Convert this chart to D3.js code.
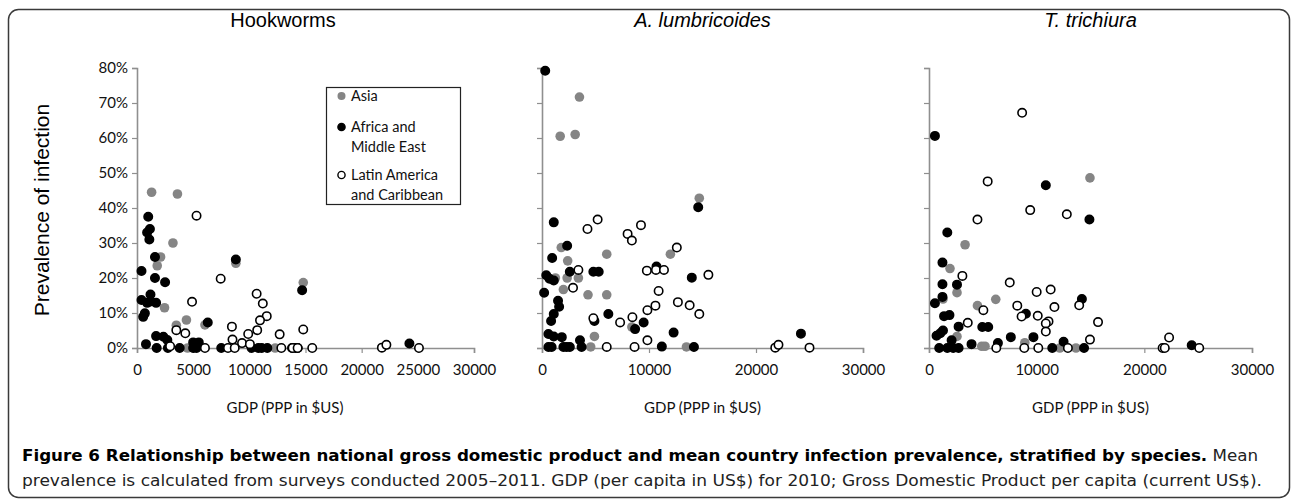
<!DOCTYPE html>
<html>
<head>
<meta charset="utf-8">
<script src="https://cdn.jsdelivr.net/npm/d3@7"></script>
<style>
  body { margin: 0; background: #fff; }
  svg { display: block; }
</style>
</head>
<body>
<svg></svg>
<script>
// [GDP, prevalence %]
let hookAsia = [[1300,44.5],[3600,44],[3200,30],[2100,26],[1800,23.5],[2450,11.5],[4400,8],[3500,6.5],[6050,6.6],[8800,24.2],[14800,18.7],[4500,0],[12300,0],[14300,0]]
let hookAfrica = [[1000,37.5],[900,33],[1150,34],[1100,31],[1600,26],[400,22],[1600,20],[2500,18.8],[8800,25.3],[14700,16.5],[400,13.7],[1200,15.3],[900,12.9],[1700,12.9],[1200,13.3],[700,9.9],[550,8.9],[6300,7.3],[800,1.1],[1700,3.4],[2350,3.2],[2700,2.3],[5000,1.6],[5500,1.6],[1750,0],[2750,0],[3800,0],[5000,0],[5300,0],[7500,0],[10200,0],[10800,0],[11100,0],[11600,0],[13800,0],[14100,0],[14300,0],[24250,1.3]]
let hookLatin = [[5300,37.8],[7450,19.8],[4900,13.2],[10650,15.5],[11200,12.7],[11550,9.1],[10950,7.9],[10700,5.1],[9900,4.0],[3500,5.1],[4300,4.2],[8450,6.1],[8500,2.4],[9350,1.4],[10050,1.1],[12700,3.9],[14800,5.3],[2950,0.5],[6050,0],[8100,0],[8700,0],[12850,0],[13850,0],[14300,0],[15600,0],[21800,0.1],[22200,0.9],[25100,0]]

let ascAsia = [[3500,71.7],[1700,60.5],[3100,61],[14700,42.8],[1800,28.7],[2400,24.9],[6050,26.8],[12000,26.8],[1250,20],[2350,20],[3400,20],[2000,16.7],[4300,15.2],[6050,15.2],[4900,3.3],[4550,0.3],[13500,0.3],[8400,6]]
let ascAfrica = [[300,79.2],[1100,35.9],[2350,29.2],[950,25.7],[400,20.8],[1100,19.3],[700,19.8],[200,15.8],[2600,21.8],[4800,21.8],[5300,21.8],[14600,40.2],[14000,20.1],[10700,23.3],[1500,13.5],[1600,11.8],[1100,9.7],[850,7.7],[6200,9.7],[4900,7.7],[9500,7.3],[8700,5.4],[12300,4.4],[600,4.0],[1100,3.3],[1850,3.1],[3550,2.2],[600,0.3],[900,0.3],[2000,0.3],[2300,0.3],[2600,0.3],[3700,0.3],[11200,0.4],[14200,0.3],[24200,4.1]]
let ascLatin = [[5200,36.7],[4250,34],[9250,35.1],[8000,32.6],[8400,30.7],[12600,28.7],[3400,22.3],[2900,17.2],[9800,22.1],[10650,22.3],[11400,22.3],[15550,20.9],[10900,16.3],[12700,13.1],[13800,12.2],[14700,9.7],[10600,12.1],[9850,10.8],[4800,8.5],[7300,7.3],[8450,8.8],[9850,2.2],[6050,0.3],[8650,0.3],[21800,0.1],[22100,0.9],[25000,0.1]]

let triAsia = [[3350,29.5],[14950,48.6],[1950,22.7],[2600,15.8],[6200,13.9],[4500,12.1],[1300,14],[2600,3.3],[4900,0.5],[5200,0.5],[8900,1.5],[12150,0],[13650,0]]
let triAfrica = [[550,60.6],[10850,46.5],[14900,36.7],[1700,33],[1250,24.4],[1250,18.2],[2600,18.1],[550,12.8],[1250,14.6],[1400,9.1],[1900,9.4],[9000,9.8],[14200,14],[2750,6.1],[4950,6.0],[5500,6.0],[7600,3.1],[9700,3.1],[700,3.5],[1050,4.2],[1300,5.0],[6400,1.4],[12500,1.8],[2100,2.2],[3950,1.1],[950,0],[1700,0],[2250,0],[2750,0],[11450,0],[14400,0],[24400,0.8]]
let triLatin = [[8650,67.2],[5450,47.6],[9400,39.4],[12800,38.2],[4500,36.7],[3100,20.6],[7500,18.7],[10000,16],[11300,16.7],[5050,10.8],[8200,12.1],[11650,11.7],[13950,12.2],[8600,9],[10100,9.2],[11100,7.6],[10850,7],[10850,4.7],[3600,7.2],[15700,7.4],[14950,2.4],[6250,0],[8850,0],[10150,0],[12900,0],[21700,0],[21900,0],[22300,3.0],[25100,0]]

let titles = ['Hookworms', 'A. lumbricoides', 'T. trichiura']
let yTicks = [0, 10, 20, 30, 40, 50, 60, 70, 80]
let xTicksWide = [0, 5000, 10000, 15000, 20000, 25000, 30000]
let xTicksNarrow = [0, 10000, 20000, 30000]
let legendLabels = [['Asia'], ['Africa and', 'Middle East'], ['Latin America', 'and Caribbean']]

let width = 1292
let height = 501
let tickFont = 'Lato, "Open Sans", sans-serif'

let svg = d3.select('svg').attr('width', width).attr('height', height)

// frame
svg.append('rect')
   .attr('x', 8.5).attr('y', 9.5)
   .attr('width', 1281).attr('height', 488)
   .attr('rx', 10)
   .attr('fill', 'none')
   .attr('stroke', '#3a3a3a')
   .attr('stroke-width', 1.5)

let panels = [
  { title: titles[0], italic: false, x0: 137, x1: 474, ticks: xTicksWide, labels: true,
    sets: [hookAsia, hookAfrica, hookLatin] },
  { title: titles[1], italic: true, x0: 542, x1: 863, ticks: xTicksNarrow, labels: false,
    sets: [ascAsia, ascAfrica, ascLatin] },
  { title: titles[2], italic: true, x0: 929, x1: 1252, ticks: xTicksNarrow, labels: false,
    sets: [triAsia, triAfrica, triLatin] }
]

let styles = [
  { fill: '#858585', stroke: 'none', r: 4.8 },
  { fill: '#000', stroke: '#000', r: 4.2 },
  { fill: '#fff', stroke: '#000', r: 4.2 }
]

let yScale = d3.scaleLinear().domain([0, 80]).range([348, 68])

panels.forEach(p => {
  let xScale = d3.scaleLinear().domain([0, 30000]).range([p.x0, p.x1])
  let g = svg.append('g')

  let yAxis = d3.axisLeft(yScale)
                .tickValues(yTicks)
                .tickSize(5)
                .tickPadding(4)
                .tickFormat(d => p.labels ? d + '%' : '')
  let xAxis = d3.axisBottom(xScale)
                .tickValues(p.ticks)
                .tickSize(5)
                .tickPadding(11)
                .tickFormat(d => d)

  let ya = g.append('g').attr('transform', `translate(${p.x0},0)`).call(yAxis)
  let xa = g.append('g').attr('transform', `translate(0,${yScale(0)})`).call(xAxis)
  ;[ya, xa].forEach(a => {
    a.select('.domain').attr('stroke', '#8f8f8f').attr('stroke-width', 1.6)
    a.selectAll('.tick line').attr('stroke', '#8f8f8f').attr('stroke-width', 1.2)
    a.selectAll('.tick text').attr('fill', '#111').style('font-family', tickFont).style('font-size', '15px')
  })

  p.sets.forEach((set, i) => {
    g.selectAll('circle.s' + i)
     .data(set)
     .enter()
     .append('circle')
     .attr('class', 's' + i)
     .attr('cx', d => xScale(d[0]))
     .attr('cy', d => yScale(d[1]))
     .attr('r', styles[i].r)
     .attr('fill', styles[i].fill)
     .attr('stroke', styles[i].stroke)
     .attr('stroke-width', 1.6)
  })

  let cx = (p.x0 + p.x1) / 2 + (p.labels ? 0 : 0)
  svg.append('text')
     .attr('x', p.labels ? 283 : cx)
     .attr('y', 27)
     .attr('text-anchor', 'middle')
     .style('font-family', 'Arial, "Liberation Sans", sans-serif')
     .style('font-size', '20px')
     .style('font-style', p.italic ? 'italic' : 'normal')
     .text(p.title)

  svg.append('text')
     .attr('x', p.labels ? 285 : cx)
     .attr('y', 413)
     .attr('text-anchor', 'middle')
     .style('font-family', tickFont)
     .style('font-size', '15px')
     .attr('fill', '#111')
     .text('GDP (PPP in $US)')
})

// y title
svg.append('text')
   .attr('transform', 'translate(49,210) rotate(-90)')
   .attr('text-anchor', 'middle')
   .style('font-family', 'Arial, "Liberation Sans", sans-serif')
   .style('font-size', '21px')
   .text('Prevalence of infection')

// legend
let legend = svg.append('g')
legend.append('rect')
      .attr('x', 326.5).attr('y', 87.5)
      .attr('width', 134).attr('height', 117)
      .attr('fill', '#fff').attr('stroke', '#222').attr('stroke-width', 1.2)
let legendY = [96, 127, 175]
legendLabels.forEach((lines, i) => {
  legend.append('circle')
        .attr('cx', 341.5).attr('cy', legendY[i])
        .attr('r', i === 0 ? 4 : 3.6)
        .attr('fill', styles[i].fill)
        .attr('stroke', styles[i].stroke)
        .attr('stroke-width', 1.4)
  lines.forEach((t, j) => {
    legend.append('text')
          .attr('x', 351).attr('y', legendY[i] + 5 + j * 20)
          .style('font-family', tickFont)
          .style('font-size', '14.5px')
          .attr('fill', '#111')
          .text(t)
  })
})

// caption
let cap1 = svg.append('text')
   .attr('x', 22).attr('y', 461)
   .attr('textLength', 1236).attr('lengthAdjust', 'spacingAndGlyphs')
   .style('font-family', '"DejaVu Sans Condensed", "Liberation Sans Narrow", sans-serif')
   .style('font-size', '16px')
   .attr('fill', '#222')
cap1.append('tspan').style('font-weight', 'bold').attr('fill', '#000')
    .text('Figure 6 Relationship between national gross domestic product and mean country infection prevalence, stratified by species.')
cap1.append('tspan').text(' Mean')

svg.append('text')
   .attr('x', 22).attr('y', 486)
   .attr('textLength', 1240).attr('lengthAdjust', 'spacingAndGlyphs')
   .style('font-family', '"DejaVu Sans Condensed", "Liberation Sans Narrow", sans-serif')
   .style('font-size', '16px')
   .attr('fill', '#222')
   .text('prevalence is calculated from surveys conducted 2005\u20132011. GDP (per capita in US$) for 2010; Gross Domestic Product per capita (current US$).')
</script>
</body>
</html>
